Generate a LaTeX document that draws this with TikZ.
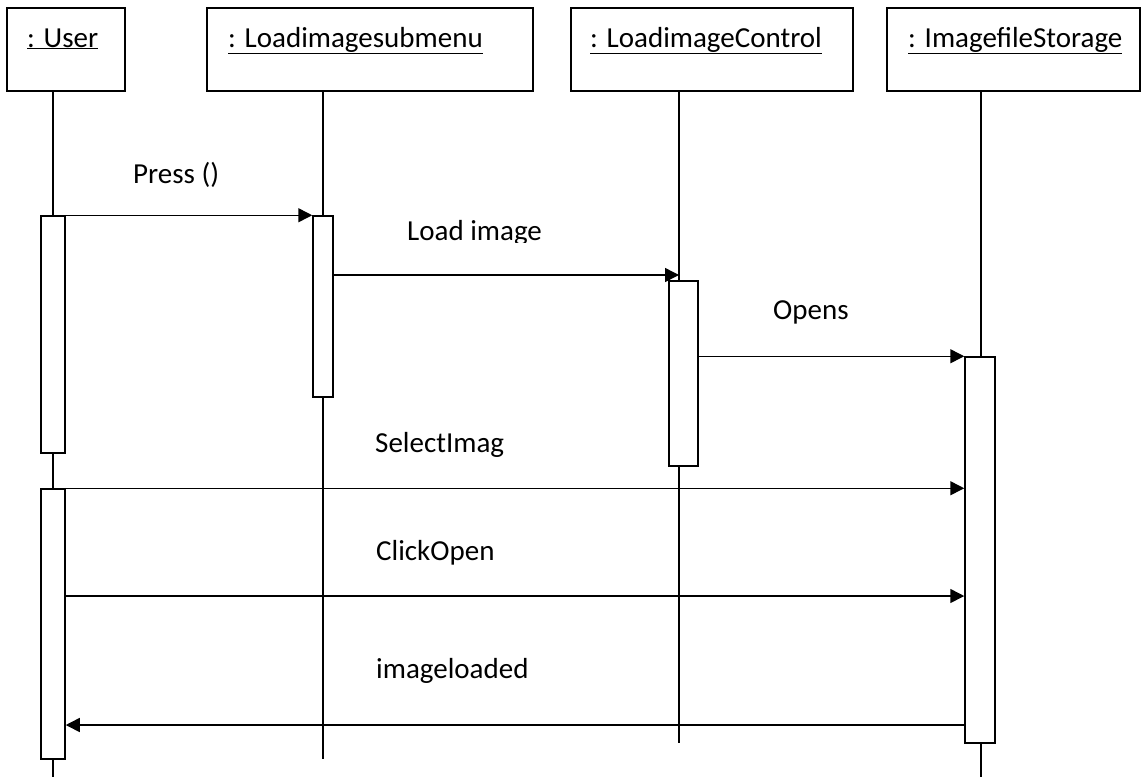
\documentclass[tikz,border=0pt]{standalone}
\usepackage{fontspec}
\setmainfont{Carlito}
\usetikzlibrary{arrows.meta}
\begin{document}
\begin{tikzpicture}[x=1pt,y=-1pt,
  every node/.style={font=\fontsize{29}{32}\selectfont},
  obj/.style={draw,line width=1.5pt,fill=white,inner sep=0pt},
  act/.style={draw,line width=1.5pt,fill=white,inner sep=0pt,minimum width=#1},
  act/.default=24pt,
  life/.style={line width=1.5pt},
  msg/.style={line width=1.5pt,-{Triangle[length=14pt,width=14pt]}},
  lbl/.style={anchor=base west,inner sep=0pt},
]
\useasboundingbox (0,0) rectangle (1148,777);

% object boxes
\node[obj,minimum width=118pt,minimum height=83pt] (user) at (66,49.5) {};
\node[obj,minimum width=326pt,minimum height=83pt] (menu) at (370,49.5) {};
\node[obj,minimum width=282pt,minimum height=83pt] (ctrl) at (712,49.5) {};
\node[obj,minimum width=253pt,minimum height=83pt] (store) at (1013.5,49.5) {};

\node[lbl] (userL) at (27,47) {\underline{: User}};
\node[lbl] (menuL) at (228,47) {\underline{: Loadimagesubmenu}};
\node[lbl] (ctrlL) at (590,47) {\underline{: LoadimageControl}};
\node[lbl] (storeL) at (908,47) {\underline{: ImagefileStorage}};

% lifeline ends
\coordinate (userEnd) at (53,777);
\coordinate (menuEnd) at (323,759);
\coordinate (ctrlEnd) at (679,743);
\coordinate (storeEnd) at (981,777);

\draw[life] (user.south -| userEnd) -- (userEnd);
\draw[life] (menu.south -| menuEnd) -- (menuEnd);
\draw[life] (ctrl.south -| ctrlEnd) -- (ctrlEnd);
\draw[life] (store.south -| storeEnd) -- (storeEnd);

% activation bars
\node[act=24pt,minimum height=237pt] (ua1) at (53,334.5) {};
\node[act=24pt,minimum height=270pt] (ua2) at (53,624) {};
\node[act=20pt,minimum height=181pt] (ma) at (323,306.5) {};
\node[act=29pt,minimum height=185pt] (ca) at (683.5,373.5) {};
\node[act=30pt,minimum height=386pt] (sa) at (980,550) {};

% messages
\coordinate (loadTip) at (679,275);
\draw[msg] (ua1.north east) -- (ma.north west);
\draw[msg] (ma.east |- loadTip) -- (loadTip);
\draw[msg] (ca.east |- sa.north) -- (sa.north west);
\draw[msg] (ua2.north east) -- (sa.west |- ua2.north);
\draw[msg] (ua2.east |- 0,596) -- (sa.west |- 0,596);
\draw[msg] (sa.west |- 0,725) -- (ua2.east |- 0,725);

% message labels
\node[lbl] (pressL) at (133,183) {Press ()};
\begin{scope}
  % the text frame of this label cuts off its descender
  \clip (395,200) rectangle (580,242);
  \node[lbl] (loadL) at (407,240) {Load image};
\end{scope}
\node[lbl] (opensL) at (773,319) {Opens};
\node[lbl] (selL) at (375,452) {SelectImag};
\node[lbl] (clickL) at (376,560) {ClickOpen};
\node[lbl] (loadedL) at (376,678) {imageloaded};
\end{tikzpicture}
\end{document}
